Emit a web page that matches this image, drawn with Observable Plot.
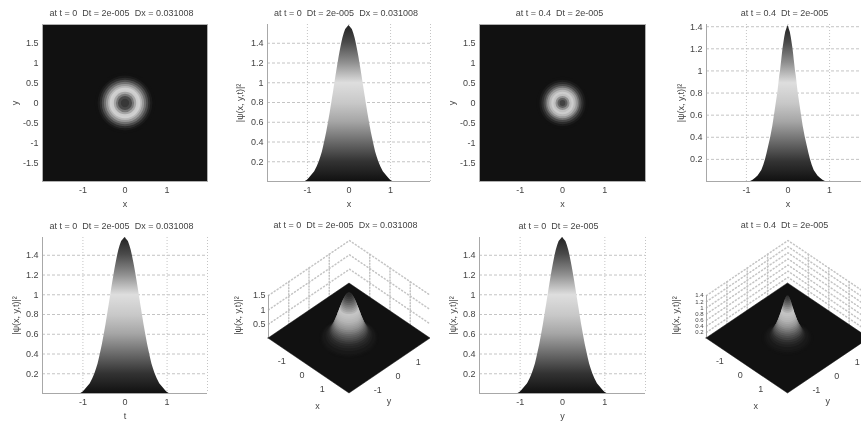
<!DOCTYPE html>
<html><head><meta charset="utf-8">
<script src="https://cdn.jsdelivr.net/npm/d3@7"></script>
<script src="https://cdn.jsdelivr.net/npm/@observablehq/plot@0.6"></script>
<style>
html,body{margin:0;padding:0;background:#fff;overflow:hidden;width:861px;height:423px}
#fig{position:relative;width:861px;height:423px;overflow:hidden;filter:blur(0.7px)}
#fig svg{position:absolute;overflow:visible}
</style></head><body><div id="fig"></div>
<script>
// Height levels and half-widths
const levelsT0 = [0,.012,.03,.05,.10,.15,.20,.25,.30,.35,.40,.45,.50,.55,.60,.65,.70,.75,.80,.85,.90,.95,1.00,1.05,1.10,1.15,1.20,1.25,1.30,1.35,1.40,1.45,1.50,1.54,1.58];
const widthsT0 = [1.05,1.0,.96,.92,.825,.765,.715,.675,.64,.612,.586,.56,.536,.514,.492,.471,.451,.432,.412,.394,.375,.357,.338,.32,.301,.282,.262,.242,.221,.198,.174,.147,.114,.08,0];
const levelsT4 = [0,.012,.03,.05,.10,.15,.20,.25,.30,.35,.40,.45,.50,.55,.60,.65,.70,.75,.80,.85,.90,.95,1.00,1.05,1.10,1.15,1.20,1.25,1.30,1.35,1.41];
const widthsT4 = [.90,.84,.78,.72,.63,.58,.54,.505,.475,.445,.415,.39,.365,.345,.325,.305,.285,.265,.245,.23,.215,.20,.18,.165,.15,.135,.12,.10,.08,.055,0];
// Ring images: radius and grey level
const ringRadiiT0 = [0,.10,.17,.22,.27,.32,.37,.41,.46,.51,.56,.61,.66,.73];
const ringGreysT0 = [51,56,74,119,165,204,208,184,152,112,76,44,26,17];
const ringRadiiT4 = [0,.07,.12,.17,.22,.27,.32,.37,.41,.46,.51,.56,.63];
const ringGreysT4 = [56,66,96,144,192,204,184,152,112,72,44,26,17];
// Grey colormaps: relative height -> grey
const colorStops = [0,.127,.25,.38,.5,.63,.76,.89,1];
const colorGreys = ["#111111","#333333","#6a6a6a","#a5a5a5","#c8c8c8","#dedede","#8f8f8f","#4a4a4a","#222222"];
const surfaceGreys = ["#111111","#2c2c2c","#5c5c5c","#929292","#b4b4b4","#c6c6c6","#868686","#484848","#222222"];
const xTicks = [-1,0,1];
const heatYTicks = [-1.5,-1,-.5,0,.5,1,1.5];
const profileTicks = [.2,.4,.6,.8,1,1.2,1.4];
const surfaceTicksT0 = [.5,1,1.5];
const surfaceTicksT4 = [.2,.4,.6,.8,1,1.2,1.4];
const titleDx = "at t = 0  Dt = 2e-005  Dx = 0.031008";
const titleT0 = "at t = 0  Dt = 2e-005";
const titleT4 = "at t = 0.4  Dt = 2e-005";
const zLabel = "|ψ(x, y,t)|²";

const FONT = "'Liberation Sans', Arial, sans-serif", INK = "#444", GRID = "#c4c4c4", EDGE = "#a8a8a8", DARK = "#111111", SPAN = 1.96;
const fig = document.getElementById("fig");
const colorFor = zs => { const m = d3.max(zs); return {type:"linear", domain:colorStops.map(t=>t*m), range:surfaceGreys, interpolate:"rgb"}; };
function place(svg,left,top){ svg.style.left=left+"px"; svg.style.top=top+"px"; fig.appendChild(svg); }
const base = {style:{background:"transparent",fontFamily:FONT,fontSize:"9px",color:INK,overflow:"visible"}};

const titleMark = (t,dy,dx) => Plot.text([t],{frameAnchor:"top",lineAnchor:"middle",dy,dx,fill:INK});
const xName = t => Plot.text([t],{frameAnchor:"bottom",lineAnchor:"middle",dy:23,fill:INK});
const yName = (t,dx) => Plot.text([t],{frameAnchor:"left",textAnchor:"middle",rotate:-90,dx,fill:INK});

function heat(p){
  const rows = p.radii.map((r,i)=>({r,grey:p.greys[i]}));
  place(Plot.plot({...base,width:p.width,height:212,marginLeft:p.ml,marginRight:p.mr,marginTop:p.mt,marginBottom:31,
    x:{domain:[-SPAN,SPAN]},y:{domain:[-SPAN,SPAN]},
    r:{type:"linear",domain:[0,2],range:[0,p.pxPerTwo]},
    marks:[
      Plot.frame({fill:DARK,stroke:"#b0b0b0",strokeWidth:1}),
      Plot.dot(rows,{x:()=>0,y:()=>0,r:"r",fill:d=>`rgb(${d.grey},${d.grey},${d.grey})`}),
      Plot.axisX(xTicks,{tickSize:0,tickPadding:5,label:null,tickFormat:String,fill:INK}),
      Plot.axisY(heatYTicks,{tickSize:0,tickPadding:4,label:null,tickFormat:String,fill:INK}),
      xName("x"),yName("y",p.ynameDx),titleMark(p.title,p.tdy,p.tdx)
    ]}),p.left,0);
}

let gradientCount = 0;
function profile(p){
  const rows = p.levels.map((z,i)=>({z,w:p.widths[i]}));
  const id = "heightGrey"+(gradientCount++);
  const defs = () => {
    const d = d3.create("svg:defs");
    const g = d.append("linearGradient").attr("id",id).attr("x1",0).attr("x2",0).attr("y1",1).attr("y2",0);
    colorStops.forEach((t,i)=>g.append("stop").attr("offset",t).attr("stop-color",colorGreys[i]));
    return d.node();
  };
  const grid={stroke:GRID,strokeOpacity:1,strokeWidth:1};
  place(Plot.plot({...base,width:p.width,height:212,marginLeft:p.ml,marginRight:p.mr,marginTop:p.mt,marginBottom:31,
    x:{domain:[-SPAN,SPAN]},y:{domain:[0,p.ymax]},
    marks:[
      defs,
      Plot.gridY(profileTicks,{...grid,strokeDasharray:"3,2"}),
      Plot.gridX([-1,0,1,SPAN],{...grid,strokeDasharray:"1,2"}),
      Plot.ruleY([0],{stroke:EDGE}),
      Plot.ruleX([-SPAN],{stroke:EDGE}),
      Plot.areaX(rows,{y:"z",x1:d=>-d.w,x2:d=>d.w,fill:`url(#${id})`}),
      Plot.axisX(xTicks,{tickSize:0,tickPadding:5,label:null,tickFormat:String,fill:INK}),
      Plot.axisY(profileTicks,{tickSize:0,tickPadding:4,label:null,tickFormat:String,fill:INK}),
      xName(p.xname),yName(zLabel,p.ynameDx),titleMark(p.title,p.tdy,p.tdx)
    ]}),p.left,p.top);
}

function surface(p){
  const k=p.k, angles=d3.range(0,181,10).map(a=>a*Math.PI/180);
  const rings=[];
  p.levels.forEach((z,i)=>{
    const R=Math.SQRT2*p.widths[i];
    angles.forEach(a=>rings.push({ring:i,z,u:R*Math.cos(a),v1:z*k-R*Math.sin(a),v2:z*k+R*Math.sin(a)}));
  });
  const wall=p.ticks.flatMap(z=>[{z,u:-4,v:z*k},{z,u:0,v:4+z*k},{z,u:4,v:z*k}]);
  const verts=[-3,-2,-1,1,2,3].flatMap(u=>[{u,id:u,v:4-Math.abs(u)},{u,id:u,v:4-Math.abs(u)+p.ztop*k}]);
  const diamond=[{u:-4,a:0,b:0},{u:0,a:-4,b:4},{u:4,a:0,b:0}];
  const xLab=xTicks.map(t=>({t,u:t-2,v:-2-t}));
  const yLab=xTicks.map(t=>({t,u:t+2,v:t-2}));
  const text={fill:INK};
  place(Plot.plot({...base,width:p.width,height:212,marginLeft:p.ml,marginRight:p.mr,marginTop:28,marginBottom:31,
    x:{domain:[-4,4],axis:null},y:{domain:[-4,4+p.ztop*k],axis:null},color:colorFor(p.levels),
    marks:[
      Plot.line(wall,{x:"u",y:"v",z:"z",stroke:GRID,strokeDasharray:"1,2.5"}),
      Plot.line(verts,{x:"u",y:"v",z:"id",stroke:GRID,strokeDasharray:"1,2"}),
      Plot.ruleX([-4],{y1:0,y2:p.ztop*k,stroke:EDGE}),
      Plot.areaY(diamond,{x:"u",y1:"a",y2:"b",fill:DARK,stroke:DARK,strokeWidth:.5}),
      Plot.areaY(rings,{x:"u",y1:"v1",y2:"v2",z:"ring",fill:"z"}),
      Plot.text(p.ticks,{x:()=>-4,y:z=>z*k,text:String,textAnchor:"end",dx:-3,fontSize:p.zFont,...text}),
      Plot.text(xLab,{x:"u",y:"v",text:d=>String(d.t),dx:-7,dy:9,...text}),
      Plot.text(yLab,{x:"u",y:"v",text:d=>String(d.t),dx:8,dy:10,...text}),
      Plot.text(["x"],{x:()=>-2,y:()=>-2,dx:8.5,dy:40,...text}),
      Plot.text(["y"],{x:()=>2,y:()=>-2,dx:-1,dy:35,...text}),
      Plot.text([zLabel],{x:()=>-4,y:()=>1.67,rotate:-90,dx:-30,...text}),
      titleMark(p.title,-15,p.tdx)
    ]}),p.left,212);
}

heat({radii:ringRadiiT0,greys:ringGreysT0,left:0,width:215,ml:42,mr:8,mt:24,pxPerTwo:83,ynameDx:-27,title:titleDx,tdy:-11,tdx:-3.5});
profile({levels:levelsT0,widths:widthsT0,left:215,top:0,width:225,ml:52,mr:10,mt:24,ymax:1.59,ynameDx:-27,xname:"x",title:titleDx,tdy:-11,tdx:-3});
heat({radii:ringRadiiT4,greys:ringGreysT4,left:430,width:225,ml:49,mr:10,mt:24,pxPerTwo:83,ynameDx:-27,title:titleT4,tdy:-11,tdx:-3});
profile({levels:levelsT4,widths:widthsT4,left:650,top:0,width:229,ml:56,mr:10,mt:24,ymax:1.42,ynameDx:-25,xname:"x",title:titleT4,tdy:-11,tdx:-3.5});
profile({levels:levelsT0,widths:widthsT0,left:0,top:212,width:215,ml:42,mr:8,mt:25,ymax:1.58,ynameDx:-26,xname:"t",title:titleDx,tdy:-11,tdx:-3.5});
surface({levels:levelsT0,widths:widthsT0,left:215,width:225,ml:53,mr:10,k:2.087,ztop:1.5,ticks:surfaceTicksT0,zFont:9,title:titleDx,tdx:-4});
profile({levels:levelsT0,widths:widthsT0,left:430,top:212,width:225,ml:49,mr:10,mt:25,ymax:1.58,ynameDx:-26,xname:"y",title:titleT0,tdy:-11,tdx:-4});
surface({levels:levelsT4,widths:widthsT4,left:650,width:229,ml:56,mr:10,k:2.23,ztop:1.4,ticks:surfaceTicksT4,zFont:6,title:titleT4,tdx:-3.5});
</script></body></html>
